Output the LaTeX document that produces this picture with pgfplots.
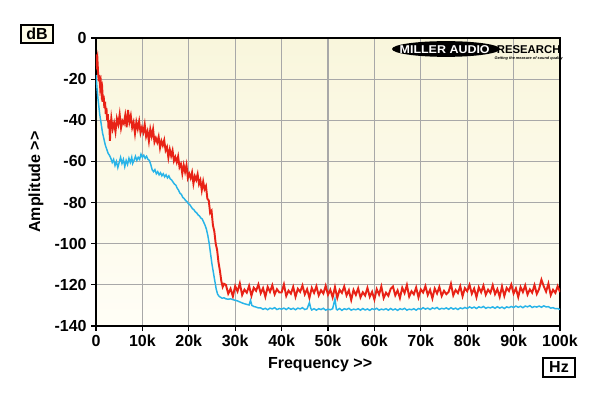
\documentclass[border=0pt]{standalone}
\usepackage{pgfplots}
\pgfplotsset{compat=1.18}
\usepackage{fontspec}
\setmainfont{Liberation Sans}
\definecolor{myred}{RGB}{232,34,22}
\definecolor{myblue}{RGB}{40,180,232}
\definecolor{gridc}{RGB}{168,168,168}
\definecolor{bgtop}{RGB}{249,246,220}
\definecolor{bgbot}{RGB}{255,254,246}
\definecolor{boxbg}{RGB}{255,253,232}
\begin{document}
\begin{tikzpicture}
\path[use as bounding box] (-72pt,-52.5pt) rectangle (378pt,244.5pt);
\begin{axis}[
  at={(0,0)}, anchor=south west, scale only axis,
  width=348pt, height=216pt,
  xmin=0, xmax=100, ymin=-140, ymax=0,
  xtick={0,10,...,100},
  xticklabels={0,10k,20k,30k,40k,50k,60k,70k,80k,90k,100k},
  ytick={-140,-120,-100,-80,-60,-40,-20,0},
  yticklabels={-140,-120,-100,-80,-60,-40,-20,0},
  tick pos=left, tick align=outside, major tick length=3.5pt,
  grid=major, major grid style={gridc, line width=0.8pt},
  axis line style={black, line width=1.5pt},
  tick style={black, line width=0.8pt},
  axis background/.style={top color=bgtop, bottom color=bgbot},
  /pgf/number format/assume math mode=true,
  tick label style={font=\bfseries\fontsize{12}{14}\selectfont},
  xlabel={Frequency >{}>},
  ylabel={Amplitude >{}>},
  xlabel style={at={(axis description cs:0.483,0)}, anchor=center, yshift=-29pt, font=\bfseries\fontsize{12}{14}\selectfont},
  ylabel style={at={(axis description cs:0,0.5)}, anchor=center, yshift=45pt, font=\bfseries\fontsize{12}{14}\selectfont},
]
\addplot[myred, line width=1.45pt] table {
0 -8
0.15 -12
0.3 -10
0.45 -17
0.6 -21
0.75 -18
0.9 -24
1.05 -22
1.2 -27
1.35 -25
1.5 -31
1.65 -28
1.8 -34
1.95 -31
2.1 -37
2.25 -34
2.4 -40
2.55 -37
2.7 -44
2.85 -40
3.0 -50
3.15 -43
3.3 -39.0
3.6 -44.2
3.9 -41.3
4.2 -45.5
4.5 -39.2
4.8 -42.0
5.1 -37.2
5.4 -43.7
5.7 -40.3
6.0 -41.6
6.3 -37.6
6.6 -43.4
6.9 -35.0
7.2 -40.9
7.5 -37.8
7.8 -43.5
8.1 -41.0
8.4 -46.4
8.7 -40.9
9.0 -44.1
9.3 -40.5
9.6 -46.1
9.9 -43.5
10.2 -45.8
10.5 -42.0
10.8 -47.8
11.1 -45.4
11.4 -50.1
11.7 -44.4
12.0 -47.8
12.3 -44.4
12.6 -50.6
12.9 -48.6
13.2 -50.7
13.5 -48.0
13.8 -53.4
14.1 -50.1
14.4 -52.2
14.7 -49.7
15.0 -54.6
15.3 -53.0
15.6 -58.1
15.9 -54.2
16.2 -57.3
16.5 -54.7
16.8 -59.7
17.1 -57.9
17.4 -60.4
17.7 -57.6
18.0 -62.8
18.3 -61.3
18.6 -65.9
18.9 -61.8
19.2 -65.1
19.5 -61.8
19.8 -68.0
20.1 -66.0
20.4 -68.1
20.7 -65.4
21.0 -70.8
21.3 -67.2
21.6 -69.0
21.9 -66.2
22.2 -71.0
22.5 -69.1
22.8 -73.9
23.1 -69.8
23.4 -73.5
23.7 -72.0
24.0 -78.1
24.3 -79
24.6 -85
24.9 -84
25.2 -91
25.5 -94
25.8 -100
26.1 -103
26.4 -109
26.7 -113
27.0 -118
27.3 -121
27.6 -119.5
28.0 -120.0
28.5 -124.3
29.0 -121.9
29.5 -125.6
30.0 -120.6
30.5 -123.2
31.0 -119.3
31.5 -124.9
32.0 -122.3
32.5 -123.8
33.0 -120.5
33.5 -125.3
34.0 -121.4
34.5 -122.9
35.0 -119.8
35.5 -124.1
36.0 -121.6
36.5 -125.8
37.0 -121.0
37.5 -123.4
38.0 -120.2
38.5 -124.6
39.0 -122.1
39.5 -123.7
40.0 -123.7
40.5 -119.8
41.0 -125.4
41.5 -122.8
42.0 -124.3
42.5 -121.0
43.0 -125.8
43.5 -121.9
44.0 -123.4
44.5 -120.3
45.0 -124.6
45.5 -122.1
46.0 -126.3
46.5 -121.5
47.0 -123.9
47.5 -120.7
48.0 -125.1
48.5 -122.6
49.0 -124.2
49.5 -120.5
50.0 -124.8
50.5 -122.4
51.0 -126.1
51.5 -121.1
52.0 -126.3
52.5 -122.4
53.0 -123.9
53.5 -120.8
54.0 -125.1
54.5 -122.6
55.0 -127.3
55.5 -122.5
56.0 -124.9
56.5 -121.7
57.0 -126.1
57.5 -123.6
58.0 -125.2
58.5 -121.5
59.0 -125.8
59.5 -123.4
60.0 -127.1
60.5 -122.1
61.0 -124.7
61.5 -120.8
62.0 -126.4
62.5 -123.8
63.0 -125.3
63.5 -122.0
64.0 -120.8
64.5 -125.1
65.0 -122.7
65.5 -126.4
66.0 -121.4
66.5 -124.0
67.0 -120.1
67.5 -125.7
68.0 -123.1
68.5 -124.6
69.0 -121.3
69.5 -126.1
70.0 -122.2
70.5 -123.7
71.0 -120.6
71.5 -124.9
72.0 -122.4
72.5 -126.6
73.0 -121.8
73.5 -124.2
74.0 -121.0
74.5 -125.4
75.0 -122.9
75.5 -124.5
76.0 -123.4
76.5 -119.5
77.0 -125.1
77.5 -122.5
78.0 -124.0
78.5 -120.7
79.0 -125.5
79.5 -121.6
80.0 -123.1
80.5 -120.0
81.0 -124.3
81.5 -121.8
82.0 -126.0
82.5 -121.2
83.0 -123.6
83.5 -120.4
84.0 -124.8
84.5 -122.3
85.0 -123.9
85.5 -120.2
86.0 -124.5
86.5 -122.1
87.0 -125.8
87.5 -120.8
88.0 -125.4
88.5 -121.5
89.0 -123.0
89.5 -119.9
90.0 -124.2
90.5 -121.7
91.0 -125.9
91.5 -121.1
92.0 -123.5
92.5 -120.3
93.0 -124.7
93.5 -122.2
94.0 -123.8
94.5 -120.1
95.0 -124.4
95.5 -122.0
96.0 -117.5
96.5 -120.7
97.0 -123.3
97.5 -119.4
98.0 -125.0
98.5 -122.4
99.0 -123.9
99.5 -120.6
100.0 -123.5
};
\addplot[myblue, line width=1.1pt] table {
0 -18
0.2 -24
0.4 -29
0.6 -33
0.8 -37
1.0 -40
1.2 -43
1.4 -46
1.6 -48
1.8 -50
2.0 -52
2.3 -54
2.6 -56
2.9 -57
3.2 -58.5
3.5 -60.5
3.8 -59
4.1 -62
4.4 -60
4.7 -63
5.0 -60.5
5.3 -58
5.6 -61
5.9 -59
6.2 -62.5
6.5 -59.5
6.8 -61.5
7.1 -58.5
7.4 -60.5
7.7 -58
7.9 -61
8.2 -59.5
8.5 -57.5
8.8 -59.5
9.1 -58
9.4 -59
9.7 -56.5
10.0 -58
10.3 -57
10.6 -58.5
10.9 -57.5
11.2 -59
11.5 -59.5
11.8 -61.5
12.1 -64
12.4 -65
12.7 -64
13.0 -66
13.3 -65
13.6 -66.5
13.9 -65.5
14.2 -67
14.5 -66
14.8 -67.5
15.1 -66.5
15.4 -68
15.7 -67
16.0 -68.5
16.3 -69
16.6 -70
16.9 -71
17.2 -71.5
17.5 -73
17.8 -74
18.1 -75.5
18.4 -76
18.7 -77.5
19.0 -78
19.3 -79
19.6 -79.5
19.9 -80.5
20.2 -81
20.5 -82
20.8 -83
21.1 -83.5
21.4 -84.5
21.7 -85
22.0 -86
22.3 -86.5
22.6 -87.5
22.9 -88
23.2 -89.5
23.5 -91
23.8 -93
24.1 -96
24.4 -100
24.7 -105
25.0 -110
25.3 -114
25.6 -118
25.9 -122
26.2 -124.5
26.5 -125.5
26.8 -126
27.2 -126.5
27.6 -126.3
28.0 -126.8
28.5 -127
29.0 -126.8
29.5 -127.2
30.0 -127.5
30.5 -127.8
31.0 -128.3
31.5 -128.8
32.0 -129.2
32.5 -129.5
33.0 -129.8
33.3 -127.5
33.6 -130
34.0 -130.5
34.5 -130.8
35.0 -131.2
35.5 -131.2
36.0 -131.9
36.5 -131.4
37.0 -132.1
37.5 -131.3
38.0 -131.7
38.5 -131.1
39.0 -132.0
39.5 -131.5
40.0 -131.8
40.5 -131.3
41.0 -132.0
41.5 -131.2
42.0 -131.9
42.5 -131.4
43.0 -132.1
43.5 -131.3
44.0 -131.7
44.5 -131.1
45.0 -132.0
45.5 -131.6
46.0 -128.6
46.3 -131.5
46.5 -132.2
47.0 -131.6
47.5 -132.3
48.0 -131.6
48.5 -132.0
49.0 -131.4
49.5 -132.3
50.0 -131.8
50.5 -132.1
51.0 -131.6
51.5 -126.8
51.8 -131.8
52.0 -132.2
52.5 -131.5
53.0 -132.4
53.5 -131.6
54.0 -132.0
54.5 -131.4
55.0 -132.3
55.5 -131.8
56.0 -132.1
56.5 -131.6
57.0 -132.3
57.5 -131.5
58.0 -132.2
58.5 -131.7
59.0 -132.4
59.5 -131.6
60.0 -132.0
60.5 -131.4
61.0 -132.3
61.5 -131.8
62.0 -132.1
62.5 -131.6
63.0 -132.3
63.5 -131.5
64.0 -132.2
64.5 -131.7
65.0 -132.4
65.5 -131.6
66.0 -132.0
66.5 -131.4
67.0 -132.3
67.5 -131.8
68.0 -132.1
68.5 -131.6
69.0 -132.3
69.5 -131.5
70.0 -131.9
70.5 -131.1
71.0 -131.8
71.5 -131.3
72.0 -132.0
72.5 -131.2
73.0 -131.6
73.5 -131.0
74.0 -131.9
74.5 -131.4
75.0 -131.7
75.5 -131.2
76.0 -131.9
76.5 -131.1
77.0 -131.8
77.5 -131.3
78.0 -132.0
78.5 -131.2
79.0 -131.6
79.5 -131.0
80.0 -131.5
80.5 -130.7
81.0 -131.3
81.5 -130.8
82.0 -131.5
82.5 -130.7
83.0 -131.1
83.5 -130.5
84.0 -131.4
84.5 -130.9
85.0 -131.2
85.5 -130.7
86.0 -131.4
86.5 -130.6
87.0 -131.3
87.5 -130.8
88.0 -131.5
88.5 -130.7
89.0 -131.1
89.5 -130.5
90.0 -131.0
90.5 -130.3
91.0 -130.9
91.5 -130.4
92.0 -131.1
92.5 -130.3
93.0 -130.7
93.5 -130.1
94.0 -131.0
94.5 -130.5
95.0 -130.8
95.5 -130.3
96.0 -130.9
96.5 -130.2
97.0 -130.7
97.5 -130.6
98.0 -131.3
98.5 -131.1
99.0 -131.6
99.5 -131.5
100.0 -132.0
};
\end{axis}
% logo
\fill[black] (262.5pt,207.75pt) ellipse (40.5pt and 5.9pt);
\node[white, font=\bfseries\fontsize{8.5}{9}\selectfont, xscale=1.1, inner sep=0pt] at (261.5pt,207.6pt) {MILLER AUDIO};
\node[black, font=\bfseries\fontsize{8.5}{9}\selectfont, inner sep=0pt] at (324.5pt,207.6pt) {RESEARCH};
\node[black, font=\bfseries\itshape\fontsize{2.9}{3}\selectfont, inner sep=0pt] at (324.5pt,200.6pt) {Getting the measure of sound quality};
% unit boxes
\node[draw=black, line width=0.8pt, fill=boxbg, minimum width=24pt, minimum height=13.5pt, inner sep=0pt, font=\bfseries\fontsize{12}{14}\selectfont] at (-44.25pt,219pt) {dB};
\node[draw=black, line width=0.8pt, fill=white, minimum width=24pt, minimum height=14.25pt, inner sep=0pt, font=\bfseries\fontsize{12}{14}\selectfont] at (347.25pt,-31.1pt) {Hz};
\end{tikzpicture}
\end{document}
